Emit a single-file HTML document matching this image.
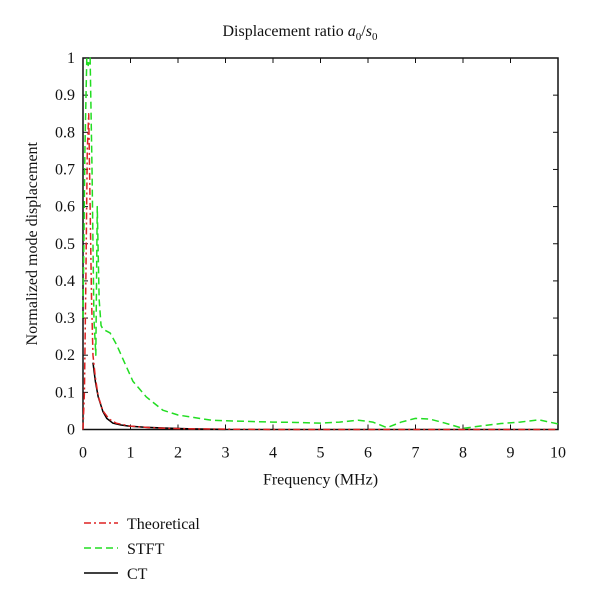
<!DOCTYPE html>
<html><head><meta charset="utf-8"><style>
body{margin:0;background:#fff;}
svg text{font-family:"Liberation Serif",serif;fill:#111;}
</style></head><body>
<svg width="600" height="605">
<g id="plot"></g>
</svg>
<script>
const ticksX=[0,1,2,3,4,5,6,7,8,9,10];
const ticksY=[0,0.1,0.2,0.3,0.4,0.5,0.6,0.7,0.8,0.9,1];
const tickYLabels=["0","0.1","0.2","0.3","0.4","0.5","0.6","0.7","0.8","0.9","1"];
const theoF=[0,0.03,0.06,0.09,0.12,0.15,0.18,0.21,0.26,0.32,0.42,0.55,0.7,1.0,1.4,1.8,2.2,3,4,5,6,7,8,9,10];
const theoV=[0,0.1,0.4,0.75,0.85,0.6,0.35,0.2,0.14,0.09,0.05,0.028,0.017,0.009,0.005,0.003,0.002,0.001,0,0,0,0,0,0,0];
const stftF=[0,0.04,0.08,0.11,0.15,0.19,0.23,0.27,0.3,0.34,0.38,0.42,0.57,0.7,0.84,1.05,1.33,1.68,2.0,2.7,3.4,4,4.5,5,5.4,5.8,6.1,6.4,6.7,7,7.3,7.6,8,8.4,8.8,9.2,9.6,10];
const stftV=[0.3,0.75,1.0,0.98,1.0,0.7,0.3,0.2,0.6,0.35,0.28,0.27,0.26,0.23,0.19,0.13,0.088,0.052,0.039,0.025,0.022,0.02,0.019,0.017,0.02,0.025,0.02,0.005,0.02,0.03,0.028,0.018,0.003,0.01,0.016,0.02,0.026,0.015];
const ctF=[0.21,0.26,0.32,0.42,0.5,0.63,0.8,0.97,1.3,1.7,2.2,2.6,3];
const ctV=[0.18,0.13,0.088,0.048,0.03,0.017,0.012,0.009,0.006,0.004,0.002,0.001,0.0005];
const L=83,R=558,T=58,B=429.5;
const X=v=>L+(v-0)/(10-0)*(R-L);
const Y=v=>B-(v-0)/(1-0)*(B-T);
const NS="http://www.w3.org/2000/svg";
const g=document.getElementById('plot');
function mk(tag,attrs,parent){const e=document.createElementNS(NS,tag);for(const k in attrs)e.setAttribute(k,attrs[k]);(parent||g).appendChild(e);return e;}
let t=mk('text',{x:300,y:36,'text-anchor':'middle','font-size':16});
t.innerHTML='Displacement ratio <tspan font-style="italic">a</tspan><tspan font-size="11" dy="4">0</tspan><tspan dy="-4">/</tspan><tspan font-style="italic">s</tspan><tspan font-size="11" dy="4">0</tspan>';


ticksX.forEach(v=>{
 const l=mk('line',{x1:X(v),x2:X(v),y1:B,y2:B-5,stroke:'#111'});
 
 
 const l2=mk('line',{x1:X(v),x2:X(v),y1:T,y2:T+5,stroke:'#111'});
 
 
 const tx=mk('text',{x:X(v),y:B+28,'text-anchor':'middle','font-size':16});
 tx.textContent=v;
 
 
});
ticksY.forEach((v,i)=>{
 const l=mk('line',{x1:L,x2:L+5,y1:Y(v),y2:Y(v),stroke:'#111'});
 
 
 const l2=mk('line',{x1:R,x2:R-5,y1:Y(v),y2:Y(v),stroke:'#111'});
 
 
 const tx=mk('text',{x:L-8,y:Y(v)+5,'text-anchor':'end','font-size':16});
 tx.textContent=tickYLabels[i];
 
 
});
const box=mk('rect',{x:L,y:T,width:R-L,height:B-T,fill:'none',stroke:'#111','stroke-width':1.5});


const xt=mk('text',{x:(L+R)/2,y:B+55,'text-anchor':'middle','font-size':16});
xt.textContent='Frequency (MHz)';


const yt=mk('text',{x:0,y:0,'text-anchor':'middle','font-size':16,transform:`translate(37,${(T+B)/2}) rotate(-90)`});
yt.textContent='Normalized mode displacement';


function series(F,V,col,dash,w,name){
 const p=mk('polyline',{points:F.map((f,i)=>X(f)+','+Y(V[i])).join(' '),fill:'none',stroke:col,'stroke-width':w,'stroke-dasharray':dash,'stroke-linejoin':'round'});
 
 
}
series(stftF,stftV,'#22dd22','7,4',1.5,'stft-line');
series(ctF,ctV,'#000','',1.5,'ct-line');
series(theoF,theoV,'#dd2222','7,3,2,3',1.5,'theoretical-line');
const leg=[['Theoretical','#dd2222','7,3,2,3'],['STFT','#22dd22','7,4'],['CT','#000','']];
leg.forEach((e,i)=>{
 const y=523+i*25;
 const l=mk('line',{x1:84,x2:118,y1:y,y2:y,stroke:e[1],'stroke-width':1.5,'stroke-dasharray':e[2]});
 
 
 const tx=mk('text',{x:127,y:y+6,'font-size':16});
 tx.textContent=e[0];
 
 
});
</script>
</body></html>
